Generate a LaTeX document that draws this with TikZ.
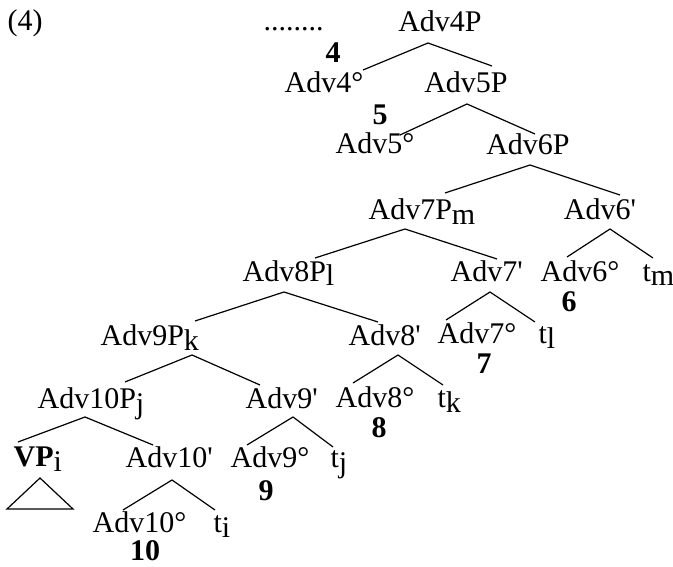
\documentclass[tikz,border=0pt]{standalone}
\usepackage{fontspec}
\setmainfont{Liberation Serif}
\newcommand\lowsub[1]{\raisebox{-5pt}{#1}}
\newcommand\prm{\textquotesingle}
\begin{document}
\begin{tikzpicture}[x=1pt,y=-1pt,line width=1.2pt,
  lbl/.style={inner sep=0pt,font=\fontsize{30}{30}\selectfont},
  lblw/.style={lbl,anchor=base west},
  lblc/.style={lbl,anchor=base},
  num/.style={lblc,font=\fontsize{30}{30}\selectfont\bfseries}]
\useasboundingbox (0,0) rectangle (673,567);

% example number and ellipsis
\node[lblw] (exnum) at (7,31) {(4)};
\node[lblw] (dots) at (263,31) {........};

% labels, top to bottom
\node[lblc] (a4p) at (440,32) {Adv4P};
\node[num] (n4) at (333,63) {4};
\node[lblc] (a4h) at (324,93) {Adv4°};
\node[lblc] (a5p) at (466,93) {Adv5P};
\node[num] (n5) at (380,125) {5};
\node[lblc] (a5h) at (375,154) {Adv5°};
\node[lblc] (a6p) at (528,155) {Adv6P};
\node[lblw] (a7p) at (368,220) {Adv7P\lowsub{m}};
\node[lblc] (a6b) at (600,220) {Adv6\prm};
\node[lblw] (a8p) at (242,281) {Adv8P\lowsub{l}};
\node[lblw] (a7b) at (450,281) {Adv7\prm};
\node[lblw] (a6h) at (540,281) {Adv6°};
\node[lblw] (tm) at (642,281) {t\lowsub{m}};
\node[num] (n6) at (569,312) {6};
\node[lblw] (a9p) at (100,345) {Adv9P\lowsub{k}};
\node[lblw] (a8b) at (348,345) {Adv8\prm};
\node[lblw] (a7h) at (437,344) {Adv7°};
\node[lblw] (tl) at (538,344) {t\lowsub{l}};
\node[num] (n7) at (484,373) {7};
\node[lblw] (a10p) at (37,408) {Adv10P\lowsub{j}};
\node[lblw] (a9b) at (245,408) {Adv9\prm};
\node[lblw] (a8h) at (335,407) {Adv8°};
\node[lblw] (tk) at (437,407) {t\lowsub{k}};
\node[num] (n8) at (379,437) {8};
\node[lblw] (vp) at (13,466) {\textbf{VP}\lowsub{i}};
\node[lblw] (a10b) at (125,467) {Adv10\prm};
\node[lblw] (a9h) at (230,467) {Adv9°};
\node[lblw] (tj) at (330,467) {t\lowsub{j}};
\node[num] (n9) at (266,500) {9};
\node[lblw] (a10h) at (92,532) {Adv10°};
\node[lblw] (ti) at (213,532) {t\lowsub{i}};
\node[num] (n10) at (145,560) {10};

% branch points: apex under each mother, ends above each daughter
\coordinate (p4) at (428,43);   \coordinate (p4l) at (363,70);  \coordinate (p4r) at (492,66);
\coordinate (p5) at (467,104);  \coordinate (p5l) at (400,135); \coordinate (p5r) at (535,134);
\coordinate (p6) at (530,165);  \coordinate (p6l) at (445,193); \coordinate (p6r) at (620,195);
\coordinate (p7) at (405,229);  \coordinate (p7l) at (315,258); \coordinate (p7r) at (497,259);
\coordinate (q6) at (610,229);  \coordinate (q6l) at (567,257); \coordinate (q6r) at (653,258);
\coordinate (p8) at (284,292);  \coordinate (p8l) at (195,321); \coordinate (p8r) at (378,322);
\coordinate (q7) at (490,292);  \coordinate (q7l) at (446,320); \coordinate (q7r) at (535,322);
\coordinate (p9) at (192,355);  \coordinate (p9l) at (125,382); \coordinate (p9r) at (260,385);
\coordinate (q8) at (398,355);  \coordinate (q8l) at (353,383); \coordinate (q8r) at (443,385);
\coordinate (p10) at (85,417);  \coordinate (p10l) at (18,442); \coordinate (p10r) at (153,445);
\coordinate (q9) at (293,417);  \coordinate (q9l) at (247,445); \coordinate (q9r) at (333,447);
\coordinate (q10) at (172,480); \coordinate (q10l) at (123,510); \coordinate (q10r) at (215,510);

\foreach \m in {p4,p5,p6,p7,q6,p8,q7,p9,q8,p10,q9,q10}
  \draw (\m l) -- (\m) -- (\m r);

% collapsed VP
\coordinate (tri) at (40,478);
\coordinate (tril) at (7,509);
\coordinate (trir) at (73,509);
\draw[line join=miter] (tri) -- (tril) -- (trir) -- cycle;
\end{tikzpicture}
\end{document}
